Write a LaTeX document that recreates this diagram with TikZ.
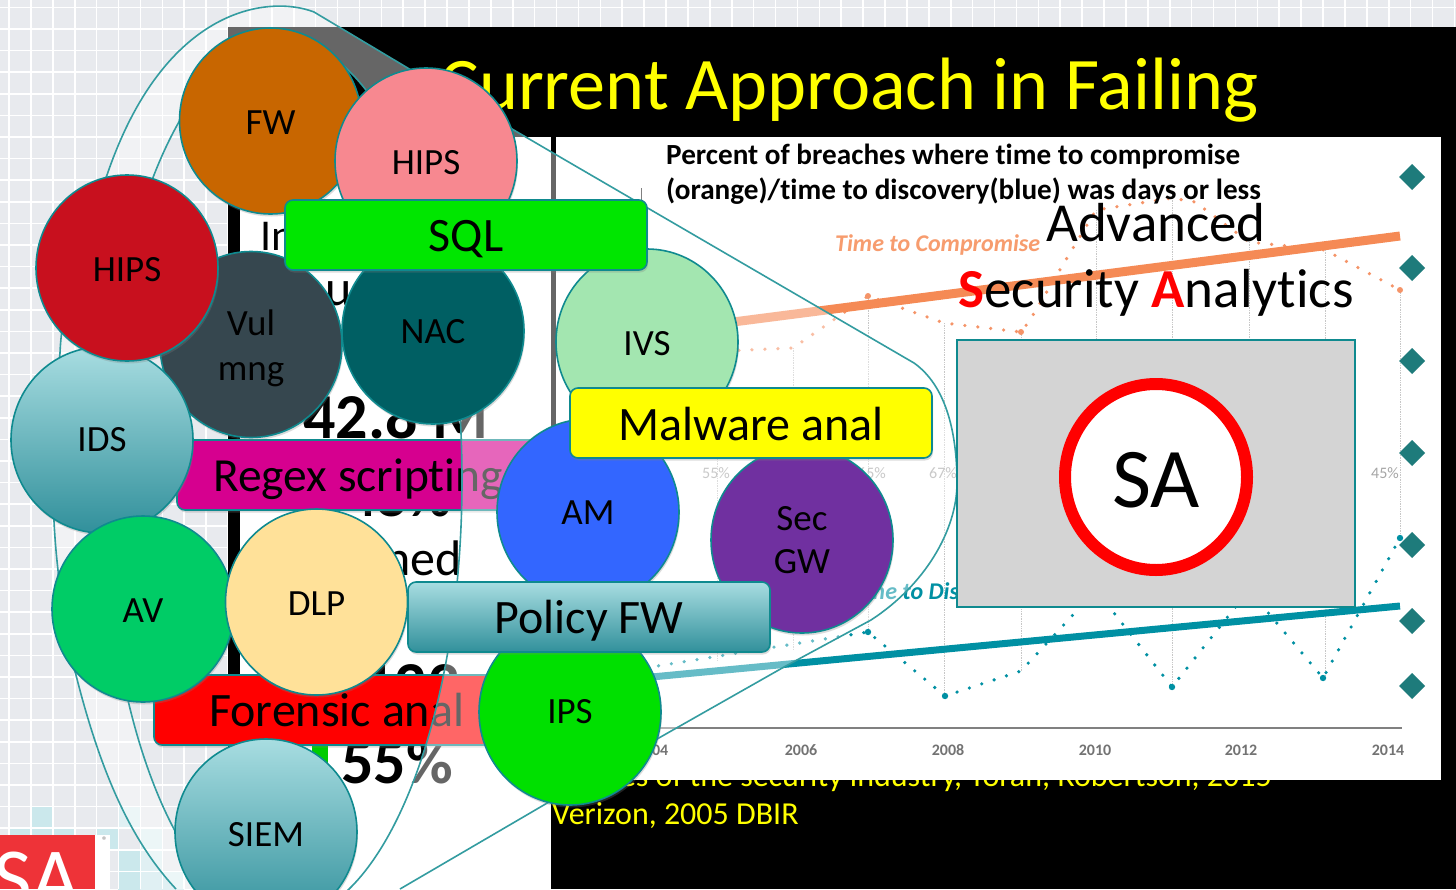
\documentclass[tikz,border=0pt]{standalone}
\usepackage{fontspec}
\setmainfont[Ligatures=NoCommon]{Carlito}
\usetikzlibrary{shadows,calc,shapes.geometric}
\definecolor{bgc}{HTML}{E8EAEE}
\definecolor{edge}{HTML}{0F8A8F}
\definecolor{gridblue}{HTML}{CBE8EC}
\definecolor{gridpale}{HTML}{E0F0F3}
\definecolor{slidey}{HTML}{FFFF00}
\definecolor{orangeT}{HTML}{F58A55}
\definecolor{orangeD}{HTML}{F59468}
\definecolor{tealT}{HTML}{0090A3}
\definecolor{diam}{HTML}{1E7B7B}
\definecolor{gradA}{HTML}{A8DDE1}
\definecolor{gradB}{HTML}{31909B}
\definecolor{logored}{HTML}{EE3338}
\definecolor{barred}{HTML}{FF0000}
\newcommand{\fsz}[1]{\fontsize{#1}{#1}\selectfont}
\newcommand{\dn}[2][2pt]{\raisebox{-#1}[\height][\depth]{#2}}
\tikzset{
  x=1pt,y=-1pt,
  softshadow/.style={drop shadow={opacity=.28,shadow xshift=1pt,shadow yshift=-2.5pt}},
  disc/.style={ellipse,minimum width=182pt,minimum height=186pt,inner sep=0pt,draw=edge,line width=1.6pt,softshadow,font=\fsz{37},align=center,text=black},
  bar/.style={rectangle,rounded corners=8pt,minimum width=362pt,minimum height=70pt,inner sep=0pt,draw=edge,line width=1.6pt,softshadow,font=\fsz{48},text=black},
  teal grad/.style={top color=gradA,bottom color=gradB},
  frag/.style={inner sep=0pt,anchor=base west,text=black},
  ticklab/.style={font=\bfseries\fsz{16},text=black!55},
  pct/.style={font=\fsz{16},text=black!35},
  diamond mark/.style={fill=diam,draw=none},
  dotline/.style={line width=3.6pt,line cap=round,dash pattern=on 0pt off 13pt},
  guide/.style={black!22,line width=.7pt,densely dotted},
  callout/.style={draw=edge!85!white,line width=1.6pt},
}
\begin{document}
\begin{tikzpicture}
\useasboundingbox (0,0) rectangle (1456,889);
\clip (0,0) rectangle (1456,889);
% background grid
\fill[bgc] (0,0) rectangle (1456,889);
\foreach \cx/\cy/\cc in {31/806/gridblue,9/827/gridblue,31/827/gridblue,53/827/gridblue,97/827/gridblue,118/806/gridpale,140/827/gridpale,118/849/gridblue,140/849/gridpale,140/871/gridpale,118/871/gridblue,162/871/gridpale}
  \fill[\cc] (\cx,\cy) rectangle ++(22,22);
\foreach \k in {0,...,66} \draw[white,line width=1.6pt] ({9+21.9*\k},0) -- ({9+21.9*\k},889);
\foreach \k in {-1,...,40} \draw[white,line width=1.6pt] (0,{29+21.6*\k}) -- (1456,{29+21.6*\k});
% logo
\fill[white] (0,835) rectangle (110,889);
\fill[logored] (0,835) rectangle (95,889);
\node[inner sep=0pt,anchor=base east,text=white,font=\fsz{84}] (logo) at (80,906) {SA};
\node[inner sep=0pt,text=black!50,font=\fsz{11}] (regmark) at (105,841) {®};
% slide
\fill[black] (228,27) rectangle (1456,889);
\fill[white] (240,137) rectangle (551,889);
\fill[white] (228,750) rectangle (551,889);
\node[inner sep=0pt,text=slidey,font=\fsz{74.2}] (title) at (849,90) {Current Approach in Failing};
\node[inner sep=0pt,anchor=base east,text=slidey,font=\fsz{32}] (src1) at (1272,786) {es of the security industry, Yoran, Robertson, 2015};
\node[inner sep=0pt,anchor=base west,text=slidey,font=\fsz{32}] (src2) at (552,824) {Verizon, 2005 DBIR};
\node[inner sep=0pt,text=tealT,font=\fsz{29}] (pageno) at (856,900) {10};
% left panel text fragments
\node[frag,font=\fsz{44}] (t1) at (260,250) {In};
\node[frag,font=\fsz{50}] (t2) at (325,305) {u};
\node[frag,font=\bfseries\fsz{64}] (t3) at (303,438) {42.8 M};
\node[frag,font=\bfseries\fsz{60}] (t4) at (346,516) {48\%};
\node[inner sep=0pt,anchor=base east,text=black,font=\fsz{50}] (t5) at (462,575) {ned};
\node[frag,font=\bfseries\fsz{64}] (t6) at (362,706) {123};
\node[frag,font=\bfseries\fsz{64}] (t7) at (341,783) {55\%};
\fill[green!80!black] (312,740) rectangle (328,773);
% chart panel
\fill[white] (556,137) rectangle (1441,780);
\draw[black!50,line width=1pt] (641,188) -- (641,205);
\foreach \gx/\ga/\gb in {717/352/660,793/348/650,868/296/632,944/323/696,1021/332/671,1096/210/590,1172/198/687,1249/242/590,1325/250/678,1400/290/538}
  \draw[guide] (\gx,\ga) -- (\gx,\gb);
\draw[orangeD,dotline] (700,352) -- (793,348) -- (868,296) -- (944,323) -- (1021,332) -- (1030,320) -- (1064,263) -- (1096,210) -- (1172,198) -- (1195,202) -- (1249,242) -- (1325,250) -- (1400,290);
\draw[tealT,dotline] (620,672) -- (868,632) -- (945,696) -- (1021,671) -- (1096,590) -- (1172,687) -- (1249,590) -- (1323,678) -- (1400,538);
\foreach \px/\py in {868/296,1021/332,1400/290} \fill[orangeD] (\px,\py) circle (3);
\foreach \px/\py in {868/632,945/696,1172/687,1323/678,1400/538} \fill[tealT] (\px,\py) circle (3.2);
\draw[orangeT,line width=9pt] (640,334) -- (1400,236);
\draw[tealT,line width=7pt] (620,680) -- (1400,606);
\draw[black!50,line width=2pt] (640,728) -- (1402,728);
\foreach \yl/\yx in {2004/652,2006/801,2008/948,2010/1095,2012/1241,2014/1388}
  \node[ticklab] (yr\yl) at (\yx,750) {\yl};
\node[pct] (p1) at (716,473) {55\%};
\node[pct] (p2) at (872,473) {65\%};
\node[pct] (p3) at (943,473) {67\%};
\node[pct] (p4) at (1385,473) {45\%};
\node[inner sep=0pt,anchor=west,text=orangeT!85!white,font=\bfseries\itshape\fsz{24}] (ttc) at (835,245) {Time to Compromise};
\node[inner sep=0pt,anchor=west,text=tealT,font=\bfseries\itshape\fsz{24}] (ttd) at (848,593) {Time to Discovery};
\node[inner sep=0pt,anchor=base west,text=black,font=\bfseries\fsz{29.2}] (head1) at (666,164) {Percent of breaches where time to compromise};
\node[inner sep=0pt,anchor=base west,text=black,font=\bfseries\fsz{29.2}] (head2) at (666,199) {(orange)/time to discovery(blue) was days or less};
\foreach \dy in {177,268,361,453,545,621,686}
  \fill[diamond mark] (1412,{\dy-13}) -- (1425,\dy) -- (1412,{\dy+13}) -- (1399,\dy) -- cycle;
% bars below the callout
\node[bar,fill=barred] (forensic) at (335,710) {};
\node[frag,font=\fsz{48}] (forensicT) at (209,726) {Forensic anal};
\node[bar,fill={rgb,255:red,214;green,0;blue,143}] (regex) at (358,475) {};
\node[frag,font=\fsz{47.5}] (regexT) at (213,491) {Regex scripting};
% callout
\path[fill=white,fill opacity=.4,even odd rule]
  (400,889) -- (650,743) -- (784,667) -- (871,620)
  .. controls (925,585) and (957,530) .. (957,483)
  .. controls (957,430) and (945,385) .. (914,363)
  -- (560,157) -- (411,70) -- (314,12)
  .. controls (270,-5) and (165,5) .. (107,175)
  .. controls (85,225) and (62,300) .. (60,353)
  .. controls (52,430) and (50,500) .. (58,570)
  .. controls (60,610) and (68,650) .. (76,675)
  .. controls (100,770) and (130,840) .. (176,889) -- cycle
  (283,480) ellipse [x radius=179,y radius=440];
\draw[callout] (400,889) -- (650,743) -- (784,667) -- (871,620)
  .. controls (925,585) and (957,530) .. (957,483)
  .. controls (957,430) and (945,385) .. (914,363)
  -- (560,157) -- (411,70) -- (314,12)
  .. controls (270,-5) and (165,5) .. (107,175)
  .. controls (85,225) and (62,300) .. (60,353)
  .. controls (52,430) and (50,500) .. (58,570)
  .. controls (60,610) and (68,650) .. (76,675)
  .. controls (100,770) and (130,840) .. (176,889);
\draw[callout] (283,480) ellipse [x radius=179,y radius=440];
% discs
\node[disc,fill={rgb,255:red,200;green,102;blue,0}] (fw) at (270.5,121) {\dn{FW}};
\node[disc,fill={rgb,255:red,247;green,136;blue,144}] (hipsp) at (426,161) {\dn{HIPS}};
\node[disc,fill={rgb,255:red,54;green,71;blue,79}] (vul) at (251,344.5) {\dn[4pt]{Vul}\\[8pt]\dn[4pt]{mng}};
\node[disc,fill={rgb,255:red,0;green,95;blue,99}] (nac) at (433,331) {\dn[1pt]{NAC}};
\node[disc,fill={rgb,255:red,163;green,230;blue,176}] (ivs) at (647,342) {\dn{IVS}};
\node[disc,teal grad] (ids) at (102,440) {IDS};
\node[disc,fill={rgb,255:red,200;green,16;blue,30}] (hipsr) at (127,268) {\dn{HIPS}};
\node[disc,fill={rgb,255:red,0;green,204;blue,102}] (av) at (143,609) {\dn{AV}};
\node[disc,fill={rgb,255:red,255;green,225;blue,153}] (dlp) at (316.5,602) {\dn{DLP}};
\node[disc,teal grad] (siem) at (266,832) {\dn[3pt]{SIEM}};
\node[disc,fill={rgb,255:red,51;green,102;blue,255}] (am) at (588,512) {\dn[1pt]{AM}};
\node[disc,fill={rgb,255:red,112;green,48;blue,160}] (sec) at (802,540) {\dn[0pt]{Sec}\\[6pt]\dn[0pt]{GW}};
\node[disc,fill={rgb,255:red,0;green,224;blue,0}] (ips) at (570,712) {IPS};
% bars above the discs
\node[bar,fill={rgb,255:red,0;green,230;blue,0}] (sql) at (466,235) {\dn[4pt]{SQL}};
\node[bar,fill=slidey] (malware) at (751,423) {\dn[1pt]{Malware anal}};
\node[bar,teal grad] (policy) at (589,617) {\dn[4pt]{Policy FW}};
% SA box
\node[rectangle,minimum width=398pt,minimum height=267pt,inner sep=0pt,fill=black!17,draw=edge,line width=1.6pt] (box) at (1156,473.5) {};
\node[ellipse,minimum width=182pt,minimum height=186pt,inner sep=0pt,fill=white,draw=red,line width=12pt,softshadow,text=black,font=\fsz{85}] (sa) at (1156,477) {\dn[3pt]{SA}};
\node[inner sep=0pt,text=black,font=\fsz{55}] (adv) at (1156,223) {Advanced};
\node[inner sep=0pt,text=black,font=\fsz{55}] (secan) at (1156,293) {\textcolor{red}{\textbf{S}}ecurity \textcolor{red}{\textbf{A}}nalytics};
\end{tikzpicture}
\end{document}
